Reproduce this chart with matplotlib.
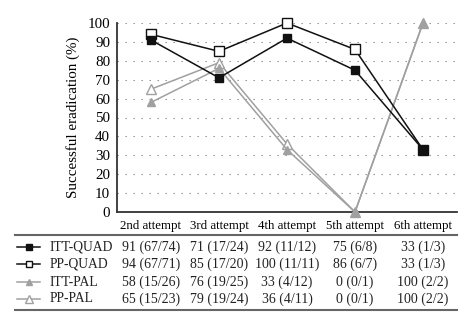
import matplotlib
matplotlib.use("Agg")
import matplotlib.pyplot as plt
from matplotlib.lines import Line2D

categories = ["2nd attempt", "3rd attempt", "4th attempt", "5th attempt", "6th attempt"]
series_names = ["ITT-QUAD", "PP-QUAD", "ITT-PAL", "PP-PAL"]
itt_quad = [91, 71, 92, 75, 33]
pp_quad = [94, 85, 100, 86, 33]
itt_pal = [58, 76, 33, 0, 100]
pp_pal = [65, 79, 36, 0, 100]
itt_quad_txt = ["91 (67/74)", "71 (17/24)", "92 (11/12)", "75 (6/8)", "33 (1/3)"]
pp_quad_txt = ["94 (67/71)", "85 (17/20)", "100 (11/11)", "86 (6/7)", "33 (1/3)"]
itt_pal_txt = ["58 (15/26)", "76 (19/25)", "33 (4/12)", "0 (0/1)", "100 (2/2)"]
pp_pal_txt = ["65 (15/23)", "79 (19/24)", "36 (4/11)", "0 (0/1)", "100 (2/2)"]
yticks = list(range(0, 101, 10))

plt.rcParams['font.family'] = ['Liberation Serif', 'DejaVu Serif']

W, H = 474, 328
fig = plt.figure(figsize=(W / 100, H / 100), dpi=100)
ax = fig.add_axes([117 / W, 1 - 212 / H, 340 / W, 189 / H])

black = "#111111"
gray = "#a0a0a0"
styles = [
    dict(color=black, marker="s", mfc=black, mec=black, ms=6, lw=1.1),
    dict(color=black, marker="s", mfc="white", mec=black, ms=6.5, lw=1.1),
    dict(color=gray, marker="^", mfc=gray, mec=gray, ms=6, lw=1.1),
    dict(color=gray, marker="^", mfc="white", mec=gray, ms=7, lw=1.1),
]
data = [itt_quad, pp_quad, itt_pal, pp_pal]
texts = [itt_quad_txt, pp_quad_txt, itt_pal_txt, pp_pal_txt]
xs = [i + 0.5 for i in range(len(categories))]

zorders = [6, 5, 4, 3]
for k in range(4):
    ax.plot(xs, data[k], zorder=zorders[k], clip_on=False, **styles[k])

ax.set_xlim(0, len(categories))
ax.set_ylim(0, 100)
ax.set_yticks(yticks)
ax.set_xticks(xs)
ax.set_xticklabels(categories, fontsize=9.3)
ax.tick_params(axis="y", length=0, labelsize=10.8, pad=5)
ax.tick_params(axis="x", length=0, pad=6)
for s in ["top", "right"]:
    ax.spines[s].set_visible(False)
ax.spines["left"].set_linewidth(1.3)
ax.spines["bottom"].set_linewidth(1.3)
ax.spines["left"].set_color("#333333")
ax.spines["bottom"].set_color("#333333")
ax.yaxis.grid(True, linestyle=(0, (1.2, 6)), color="#888888", lw=0.8)
ax.set_axisbelow(True)
ax.set_ylabel("Successful eradication (%)", fontsize=10.8, labelpad=5)

# Table below
def fy(py):
    return 1 - py / H

fig.add_artist(Line2D([15 / W, 457 / W], [fy(235), fy(235)], color="#666666", lw=1.5))
fig.add_artist(Line2D([15 / W, 457 / W], [fy(310), fy(310)], color="#666666", lw=1.5))

row_y = [247, 264, 282, 299]
for k in range(4):
    y = fy(row_y[k])
    st = styles[k]
    fig.add_artist(Line2D([17 / W, 40 / W], [y, y], color=st["color"], lw=1.1))
    fig.add_artist(Line2D([28.5 / W], [y], marker=st["marker"], mfc=st["mfc"],
                          mec=st["mec"], ms=st["ms"] - 1.5, color=st["color"], lw=0))
    fig.text(50 / W, y, series_names[k], fontsize=9.8, va="center", ha="left",
             color="#222222")
    for i, t in enumerate(texts[k]):
        xfig = fig.transFigure.inverted().transform(ax.transData.transform((xs[i], 0)))[0]
        fig.text(xfig, y, t, fontsize=10, va="center", ha="center", color="#222222")

fig.savefig("out.png", dpi=100)
